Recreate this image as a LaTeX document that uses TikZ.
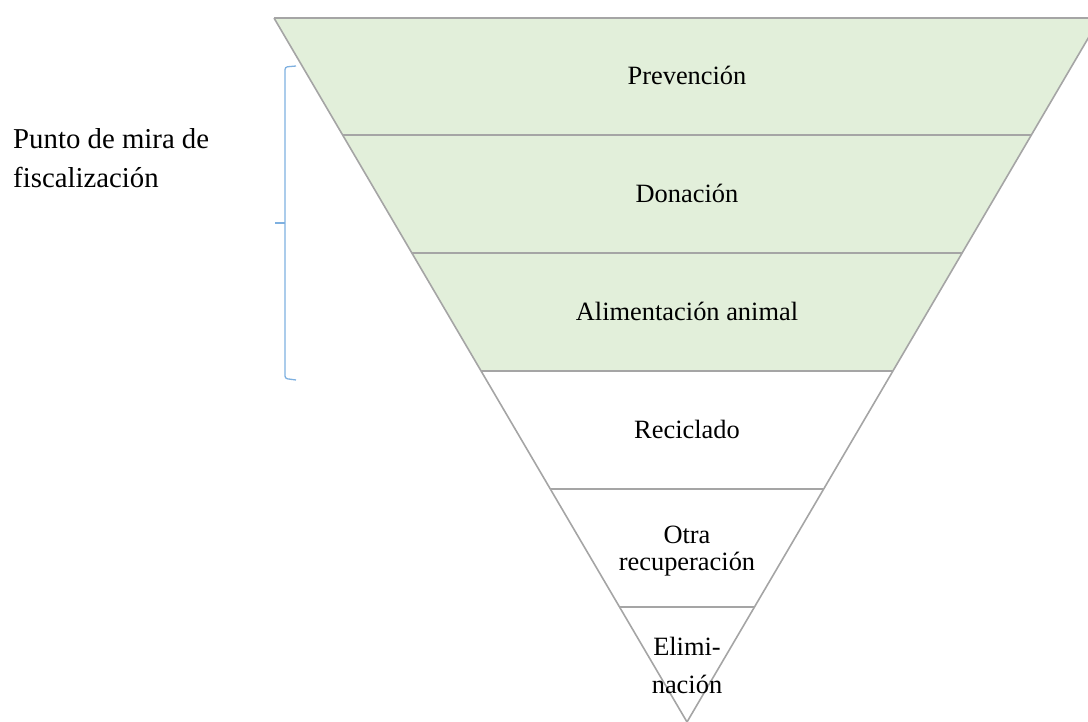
\documentclass[tikz,border=0pt]{standalone}
\usepackage{fontspec}
\setmainfont{Liberation Serif}
\definecolor{layergreen}{HTML}{E2EFDA}
\definecolor{edgegray}{HTML}{A5A5A5}
\definecolor{bracketblue}{HTML}{7EB0E0}
\begin{document}
\begin{tikzpicture}[x=1pt,y=-1pt,
  lbl/.style={anchor=base,inner sep=0pt,font=\fontsize{26.4}{30}\selectfont},
  side/.style={anchor=base west,inner sep=0pt,font=\fontsize{28.8}{34}\selectfont},
  edge/.style={draw=edgegray,line width=1.6pt},
  sep/.style={draw=edgegray,line width=2.2pt}]
\useasboundingbox (0,0) rectangle (1088,722);
\clip (0,0) rectangle (1088,722);
% corners
\coordinate (tl) at (274,18);
\coordinate (tr) at (1100,18);
\coordinate (l1) at (342.6,135); \coordinate (r1) at (1031.4,135);
\coordinate (l2) at (411.9,253); \coordinate (r2) at (962.1,253);
\coordinate (l3) at (481.1,371); \coordinate (r3) at (892.9,371);
\coordinate (l4) at (550.9,489); \coordinate (r4) at (823.1,489);
\coordinate (l5) at (619.5,607); \coordinate (r5) at (754.5,607);
\coordinate (apex) at (687,722);
% green fill
\fill[layergreen] (tl) -- (tr) -- (r3) -- (l3) -- cycle;
% outline
\draw[edge] (tl) -- (tr);
\draw[edge] (tl) -- (apex) -- (tr);
\draw[sep] (l1) -- (r1);
\draw[sep] (l2) -- (r2);
\draw[sep] (l3) -- (r3);
\draw[sep] (l4) -- (r4);
\draw[sep] (l5) -- (r5);
% labels
\node[lbl] (prev) at (687,85) {Prevención};
\node[lbl] (don) at (687,203) {Donación};
\node[lbl] (alim) at (687,321) {Alimentación animal};
\node[lbl] (rec) at (687,438) {Reciclado};
\node[lbl] (otra1) at (687,543) {Otra};
\node[lbl] (otra2) at (687,570) {recuperación};
\node[lbl] (elim1) at (687,655) {Elimi-};
\node[lbl] (elim2) at (687,693) {nación};
% bracket
\coordinate (bt) at (296,66);
\coordinate (bb) at (296,380);
\coordinate (bm) at (275,223);
\draw[bracketblue,line width=1.3pt,rounded corners=2.5pt]
  (bt) -- (285,67) -- (285,378.5) -- (bb);
\draw[bracketblue,line width=1.3pt] (bm) -- (285,223);
\node[side] (punto1) at (13,149) {Punto de mira de};
\node[side] (punto2) at (13,188) {fiscalización};
\end{tikzpicture}
\end{document}
